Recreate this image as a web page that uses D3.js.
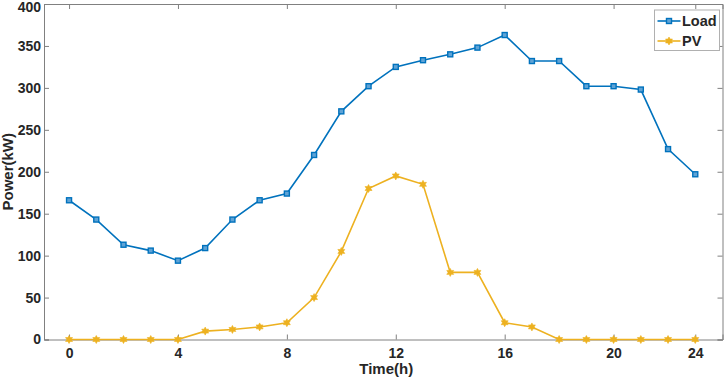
<!doctype html>
<html>
  <head>
    <script src="https://cdn.jsdelivr.net/npm/d3@7"></script>
    <style>
      body { margin: 0; background: #fff; }
      text { font-family: "Liberation Sans", Arial, sans-serif; font-weight: bold; fill: #262626; }
    </style>
  </head>
  <body>
    <div id="chart"></div>
    <script>
      // data
      var hours = d3.range(0, 24);
      var load = [166, 143, 113, 106, 94, 109, 143, 166, 174, 220, 272, 302, 325, 333, 340, 348, 363, 332, 332, 302, 302, 298, 227, 197];
      var pv = [0, 0, 0, 0, 0, 10, 12, 15, 20, 50, 105, 180, 195, 185, 80, 80, 20, 15, 0, 0, 0, 0, 0, 0];
      var xTickPos = [0, 4, 8, 12, 16, 20, 23];
      var xTickLabels = ["0", "4", "8", "12", "16", "20", "24"];
      var yTicks = [0, 50, 100, 150, 200, 250, 300, 350, 400];

      var margin = {top: 4, right: 3.5, bottom: 40.5, left: 44},
        width = 726 - margin.left - margin.right,
        height = 380 - margin.top - margin.bottom;

      var svg = d3.select("#chart").append("svg")
        .attr("width", 726).attr("height", 380)
        .append("g")
        .attr("transform", "translate(" + margin.left + "," + margin.top + ")");

      var x = d3.scaleLinear().domain([-0.92, 24]).range([0, width]);
      var y = d3.scaleLinear().domain([0, 400]).range([height, 0]);

      var axisColor = "#808080";

      // ticks on all four sides, pointing inward
      var axB = svg.append("g").attr("transform", "translate(0," + height + ")")
        .call(d3.axisBottom(x).tickValues(xTickPos).tickSize(-5).tickPadding(9)
          .tickFormat(function(d, i) { return xTickLabels[i]; }));
      var axT = svg.append("g")
        .call(d3.axisTop(x).tickValues(xTickPos).tickSize(-5).tickFormat(""));
      var axL = svg.append("g")
        .call(d3.axisLeft(y).tickValues(yTicks).tickSize(-5).tickPadding(3));
      var axR = svg.append("g").attr("transform", "translate(" + width + ",0)")
        .call(d3.axisRight(y).tickValues(yTicks).tickSize(-5).tickFormat(""));

      [axB, axT, axL, axR].forEach(function(g) {
        g.select(".domain").attr("stroke", axisColor);
        g.selectAll(".tick line").attr("stroke", axisColor);
        g.selectAll("text").style("font-size", "14px").style("font-family", "Liberation Sans, Arial, sans-serif")
          .style("font-weight", "bold").attr("fill", "#262626");
      });
      // keep the top label inside the page
      axL.selectAll(".tick text").filter(function(d) { return d === 400; }).attr("y", 3);

      // axis titles
      svg.append("text")
        .attr("x", width / 2 + 3).attr("y", height + 34.5)
        .attr("text-anchor", "middle").style("font-size", "15px")
        .text("Time(h)");
      svg.append("text")
        .attr("transform", "rotate(-90)")
        .attr("x", -height / 2).attr("y", -31)
        .attr("text-anchor", "middle").style("font-size", "15px")
        .text("Power(kW)");

      var loadColor = "#0072BD", pvColor = "#EDB120";
      var line = d3.line().x(function(d) { return x(d[0]); }).y(function(d) { return y(d[1]); });

      // six-pointed star marker
      var hexagram = {
        draw: function(ctx, size) {
          var r = Math.sqrt(size) / 2, ri = r * 0.55;
          for (var k = 0; k < 12; k++) {
            var a = -Math.PI / 2 + k * Math.PI / 6, rr = k % 2 ? ri : r;
            if (k === 0) ctx.moveTo(rr * Math.cos(a), rr * Math.sin(a));
            else ctx.lineTo(rr * Math.cos(a), rr * Math.sin(a));
          }
          ctx.closePath();
        }
      };

      function addMarker(g, cx, cy, kind, color) {
        if (kind === "square") {
          g.append("rect").attr("x", cx - 2.5).attr("y", cy - 2.5)
            .attr("width", 5).attr("height", 5)
            .attr("fill", "#5fa3d6").attr("stroke", color).attr("stroke-width", 1.4);
        } else {
          g.append("path").attr("d", d3.symbol().type(hexagram).size(64))
            .attr("transform", "translate(" + cx + "," + cy + ")")
            .attr("fill", color).attr("stroke", color).attr("stroke-width", 0.6);
        }
      }

      function drawSeries(values, color, marker) {
        var pts = hours.map(function(h, i) { return [h, values[i]]; });
        svg.append("path").datum(pts)
          .attr("d", line).attr("fill", "none")
          .attr("stroke", color).attr("stroke-width", 1.6);
        var g = svg.append("g");
        pts.forEach(function(d) { addMarker(g, x(d[0]), y(d[1]), marker, color); });
      }
      drawSeries(load, loadColor, "square");
      drawSeries(pv, pvColor, "star");

      // legend
      var lg = svg.append("g").attr("transform", "translate(" + (654.5 - margin.left) + "," + (10 - margin.top) + ")");
      lg.append("rect").attr("width", 65).attr("height", 40.5)
        .attr("fill", "#fff").attr("stroke", "#b0b0b0").attr("stroke-width", 1);
      var items = [["Load", loadColor, "square"], ["PV", pvColor, "star"]];
      items.forEach(function(it, i) {
        var cy = 11 + i * 20;
        lg.append("line").attr("x1", 3).attr("x2", 26).attr("y1", cy).attr("y2", cy)
          .attr("stroke", it[1]).attr("stroke-width", 1.6);
        addMarker(lg, 14.5, cy, it[2], it[1]);
        lg.append("text").attr("x", 27.5).attr("y", cy + 5)
          .style("font-size", "14.5px").text(it[0]);
      });
    </script>
  </body>
</html>
